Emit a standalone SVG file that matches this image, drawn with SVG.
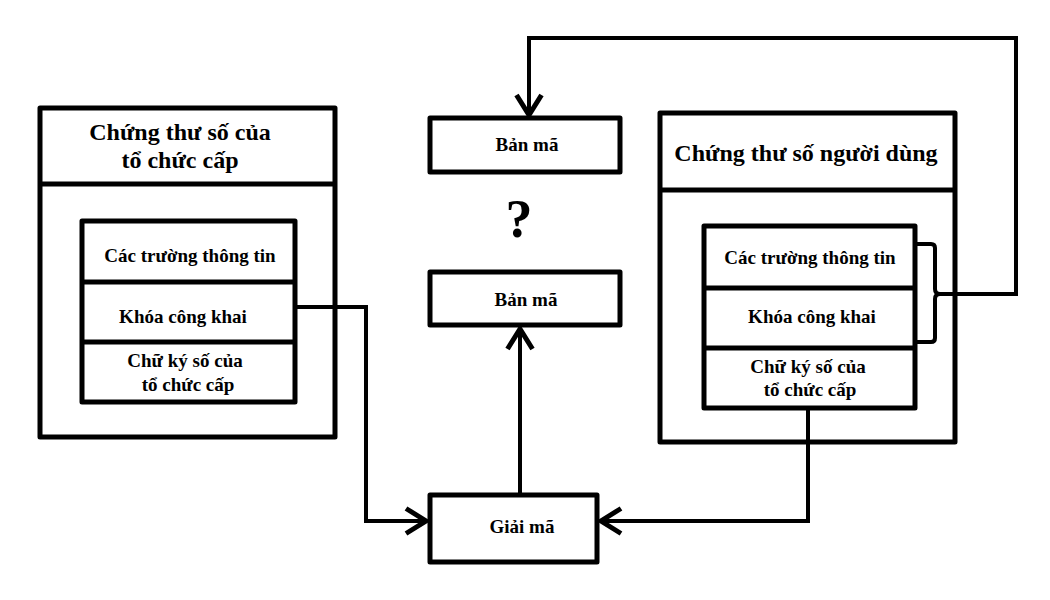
<svg xmlns="http://www.w3.org/2000/svg" width="1050" height="600" viewBox="0 0 1050 600">
<style>
.box{fill:#fff;stroke:#000;stroke-width:5;stroke-linejoin:round}
.ln{fill:none;stroke:#000;stroke-width:5}
.wire{fill:none;stroke:#000;stroke-width:4;stroke-linejoin:miter}
text{font-family:"Liberation Serif","Times New Roman",serif;font-weight:bold;fill:#000;text-anchor:middle}
.t1{font-size:24px}
.t2{font-size:19px}
.t3{font-size:19px}
.q{font-size:54px}
</style>
<defs>
<marker id="arr" markerUnits="userSpaceOnUse" markerWidth="30" markerHeight="30" viewBox="-2 -2 22 24" refX="16" refY="10" orient="auto">
<path d="M0,0 L16,10 L0,20" fill="none" stroke="#000" stroke-width="4"/>
</marker>
</defs>
<rect width="1050" height="600" fill="#fff"/>
<g id="issuer-cert">
<rect class="box" x="40" y="108" width="295" height="329"/>
<line class="ln" x1="40" y1="184" x2="335" y2="184"/>
<text class="t1" x="180" y="140">Chứng thư số của</text>
<text class="t1" x="180" y="168">tổ chức cấp</text>
</g>
<g id="issuer-inner">
<rect class="box" x="82" y="221" width="213" height="181"/>
<line class="ln" x1="82" y1="282" x2="295" y2="282"/>
<line class="ln" x1="82" y1="342" x2="295" y2="342"/>
<text class="t2" x="190" y="262">Các trường thông tin</text>
<text class="t2" x="183" y="323">Khóa công khai</text>
<text class="t2" x="185" y="367">Chữ ký số của</text>
<text class="t2" x="188" y="391">tổ chức cấp</text>
</g>
<g id="user-cert">
<rect class="box" x="660" y="113" width="295" height="329"/>
<line class="ln" x1="660" y1="190" x2="955" y2="190"/>
<text class="t1" x="806" y="161">Chứng thư số người dùng</text>
</g>
<g id="user-inner">
<rect class="box" x="704" y="226" width="211" height="182"/>
<line class="ln" x1="704" y1="288" x2="915" y2="288"/>
<line class="ln" x1="704" y1="348" x2="915" y2="348"/>
<text class="t2" x="810" y="264">Các trường thông tin</text>
<text class="t2" x="812" y="323">Khóa công khai</text>
<text class="t2" x="808" y="373">Chữ ký số của</text>
<text class="t2" x="810" y="396">tổ chức cấp</text>
</g>
<g id="ciphertext1">
<rect class="box" x="430" y="118" width="190" height="54"/>
<text class="t3" x="527" y="151">Bản mã</text>
</g>
<g id="question">
<text class="q" x="519" y="237">?</text>
</g>
<g id="ciphertext2">
<rect class="box" x="430" y="272" width="190" height="53"/>
<text class="t3" x="526" y="306">Bản mã</text>
</g>
<g id="decrypt">
<rect class="box" x="430" y="495" width="167" height="67"/>
<text class="t3" x="522" y="533">Giải mã</text>
</g>
<g id="connectors">
<path class="wire" d="M295,307 H366 V521 H426" marker-end="url(#arr)"/>
<path class="wire" d="M808,408 V521 H601" marker-end="url(#arr)"/>
<path class="wire" d="M520,495 V329" marker-end="url(#arr)"/>
<path class="wire" d="M915,244 H931 Q935,244 935,248 V289 Q935,294 940,294 Q935,294 935,299 V338 Q935,342 931,342 H915"/>
<path class="wire" d="M940,294 H1016 V38 H529 V115" marker-end="url(#arr)"/>
</g>
</svg>
